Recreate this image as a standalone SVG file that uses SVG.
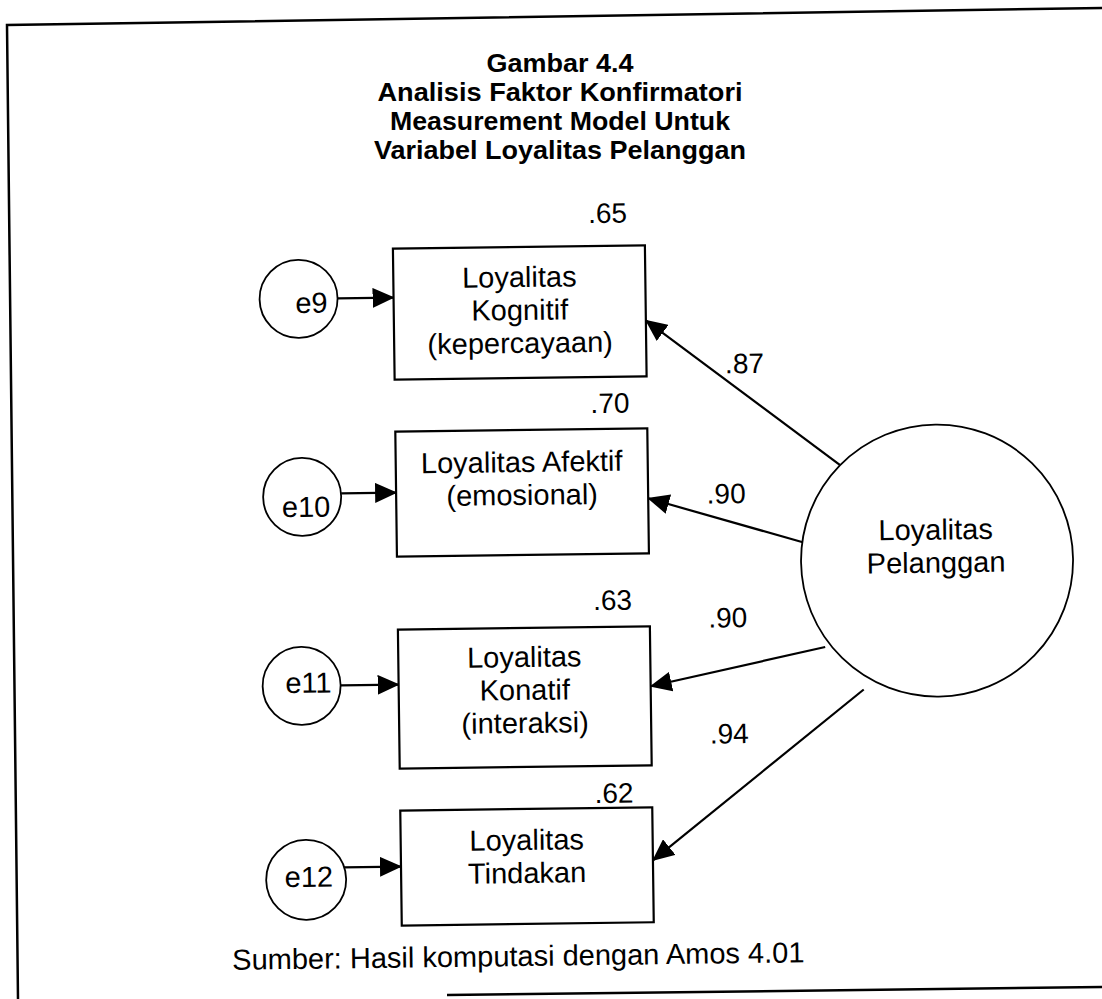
<svg xmlns="http://www.w3.org/2000/svg" width="1102" height="999" viewBox="0 0 1102 999">
<style>
.t{font-family:"Liberation Sans",Arial,sans-serif;fill:#000}
.title{font-size:25px;font-weight:bold;text-anchor:middle}
.lbl{font-size:29px;text-anchor:middle}
.num{font-size:28px;text-anchor:middle}
.err{font-size:29px;text-anchor:end}
.box{fill:#fff;stroke:#000;stroke-width:2.2}
.circ{fill:#fff;stroke:#000;stroke-width:1.8}
.arr{stroke:#000;stroke-width:2.2;fill:none;marker-end:url(#ah)}
.frame{stroke:#000;stroke-width:2.5;fill:none}
</style>
<defs>
<marker id="ah" markerUnits="userSpaceOnUse" markerWidth="22" markerHeight="20" refX="21" refY="10" orient="auto"><path d="M0,0 L22,10 L0,20 z" fill="#000"/></marker>
</defs>
<rect width="1102" height="999" fill="#fff"/>
<g id="frame" class="frame">
<polyline points="1102,8 7,25 18,999"/>
<line x1="447" y1="995" x2="1102" y2="987"/>
</g>
<g id="title" class="t title">
<text x="560" y="72" textLength="147" lengthAdjust="spacingAndGlyphs">Gambar 4.4</text>
<text x="560" y="101" textLength="365" lengthAdjust="spacingAndGlyphs">Analisis Faktor Konfirmatori</text>
<text x="560" y="130" textLength="340" lengthAdjust="spacingAndGlyphs">Measurement Model Untuk</text>
<text x="560" y="159" textLength="372" lengthAdjust="spacingAndGlyphs">Variabel Loyalitas Pelanggan</text>
</g>
<g transform="rotate(-0.75 520 560)">
<g id="connectors">
<line class="arr" x1="841" y1="469" x2="649" y2="322"/>
<line class="arr" x1="803" y1="546" x2="649" y2="500"/>
<line class="arr" x1="824" y1="651" x2="649" y2="688"/>
<line class="arr" x1="862" y1="694" x2="649" y2="862"/>
<line class="arr" x1="341" y1="296" x2="397" y2="296"/>
<line class="arr" x1="342" y1="491" x2="397" y2="491"/>
<line class="arr" x1="339" y1="683" x2="397" y2="683"/>
<line class="arr" x1="339" y1="865" x2="397" y2="865"/>
</g>
<g id="loadings" class="t num">
<text x="747" y="376">.87</text>
<text x="727" y="506">.90</text>
<text x="727" y="630">.90</text>
<text x="727" y="746">.94</text>
</g>
<g id="box-kognitif">
<rect class="box" x="397" y="247" width="252" height="131"/>
<text class="t num" x="612" y="224">.65</text>
<text class="t lbl" x="523" y="287">Loyalitas</text>
<text class="t lbl" x="523" y="320">Kognitif</text>
<text class="t lbl" x="523" y="353">(kepercayaan)</text>
</g>
<g id="box-afektif">
<rect class="box" x="397" y="430" width="252" height="125"/>
<text class="t num" x="612" y="414">.70</text>
<text class="t lbl" x="523" y="472">Loyalitas Afektif</text>
<text class="t lbl" x="523" y="505">(emosional)</text>
</g>
<g id="box-konatif">
<rect class="box" x="397" y="628" width="252" height="139"/>
<text class="t num" x="612" y="611">.63</text>
<text class="t lbl" x="523" y="667">Loyalitas</text>
<text class="t lbl" x="523" y="700">Konatif</text>
<text class="t lbl" x="523" y="733">(interaksi)</text>
</g>
<g id="box-tindakan">
<rect class="box" x="397" y="809" width="252" height="115"/>
<text class="t num" x="611" y="804">.62</text>
<text class="t lbl" x="523" y="850">Loyalitas</text>
<text class="t lbl" x="523" y="883">Tindakan</text>
</g>
<g id="e9">
<circle class="circ" cx="302" cy="296" r="39"/>
<text class="t err" x="331" y="310">e9</text>
</g>
<g id="e10">
<circle class="circ" cx="303" cy="494" r="39"/>
<text class="t err" x="331" y="514">e10</text>
</g>
<g id="e11">
<circle class="circ" cx="300" cy="683" r="39"/>
<text class="t err" x="330" y="690">e11</text>
</g>
<g id="e12">
<circle class="circ" cx="302" cy="877" r="40"/>
<text class="t err" x="329" y="884">e12</text>
</g>
<g id="loyalitas-pelanggan">
<circle class="circ" cx="937" cy="566" r="136"/>
<text class="t lbl" x="936" y="545">Loyalitas</text>
<text class="t lbl" x="936" y="578">Pelanggan</text>
</g>
<text id="source" class="t" font-size="29" x="227" y="966">Sumber: Hasil komputasi dengan Amos 4.01</text>
</g>
</svg>
